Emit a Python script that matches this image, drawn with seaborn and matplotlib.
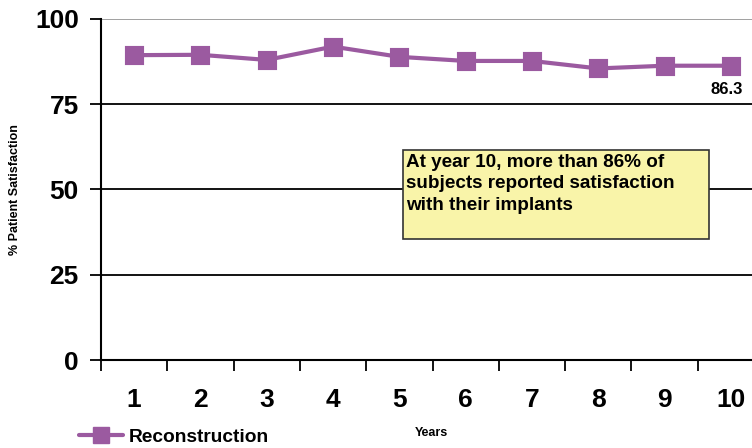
import matplotlib
matplotlib.use("Agg")
import matplotlib.pyplot as plt
import seaborn as sns
import pandas as pd
from matplotlib.lines import Line2D

years = ["1", "2", "3", "4", "5", "6", "7", "8", "9", "10"]
satisfaction = [89.4, 89.5, 88.0, 91.9, 88.9, 87.7, 87.7, 85.5, 86.3, 86.3]
yticks = [0, 25, 50, 75, 100]
series_name = "Reconstruction"
note = "At year 10, more than 86% of\nsubjects reported satisfaction\nwith their implants"

sns.set_style("white")
plt.rcParams['font.family'] = ['Liberation Sans', 'DejaVu Sans']
plt.rcParams['text.color'] = 'black'
plt.rcParams['xtick.color'] = 'black'
plt.rcParams['ytick.color'] = 'black'
plt.rcParams['axes.labelcolor'] = 'black'

purple = "#9B5AA0"
df = pd.DataFrame({"Year": years, "Satisfaction": satisfaction})

fig = plt.figure(figsize=(7.52, 4.48), dpi=100)
W, H = 752, 448
left, right, top, bottom = 101, 764, 19, 360
ax = fig.add_axes([left / W, 1 - bottom / H, (right - left) / W, (bottom - top) / H])

sns.pointplot(data=df, x="Year", y="Satisfaction", ax=ax, color=purple,
              markers="s", linestyles="-", errorbar=None,
              markersize=12, linewidth=3)

ax.set_xlim(-0.5, 9.5)
ax.set_ylim(0, 100)
ax.set_yticks(yticks)
ax.set_yticklabels([str(v) for v in yticks], fontsize=19, fontweight="bold")
ax.set_xticks(range(len(years)))
ax.set_xticklabels(years, fontsize=19, fontweight="bold")

# gridlines
for v in [25, 50, 75]:
    ax.axhline(v, color="black", lw=1.3, zorder=0)
ax.axhline(100, color="#999999", lw=1.3, zorder=0)

for s in ["top", "right"]:
    ax.spines[s].set_visible(False)
for s in ["left", "bottom"]:
    ax.spines[s].set_color("black")
    ax.spines[s].set_linewidth(1.5)

ax.tick_params(axis="y", which="major", direction="out", length=8, width=1.3,
               color="black", labelcolor="black", pad=8, left=True)
ax.tick_params(axis="x", which="major", length=0, pad=20, labelcolor="black")
ax.set_xticks([i - 0.5 for i in range(len(years) + 1)], minor=True)
ax.tick_params(axis="x", which="minor", direction="out", length=8, width=1.3,
               color="black", bottom=True)

ax.set_xlabel("")
ax.set_ylabel("")

fig.text(15 / W, 1 - 190 / H, "% Patient Satisfaction", rotation=90,
         fontsize=9, fontweight="bold", ha="center", va="center", color="black")
fig.text(431 / W, 1 - 433 / H, "Years", fontsize=9, fontweight="bold",
         ha="center", va="center", color="black")

# data label
ax.annotate(f"{satisfaction[-1]}", xy=(9, satisfaction[-1]), xytext=(-3, -17),
            textcoords="offset points", ha="center", va="center",
            fontsize=12, fontweight="bold", color="black")

# note box
fig.patches.append(plt.Rectangle((403 / W, 1 - 239 / H), 306 / W, 89 / H,
                                 transform=fig.transFigure, facecolor="#F9F4A9",
                                 edgecolor="#333333", lw=1.2, zorder=5))
fig.text(406 / W, 1 - 154 / H, note, fontsize=13.6, fontweight="bold",
         ha="left", va="top", linespacing=1.33, zorder=6, color="black")

# legend
handle = Line2D([], [], color=purple, marker="s", markersize=12, lw=3)
leg = fig.legend([handle], [series_name], loc="center left",
                 bbox_to_anchor=(71 / W, 1 - 437 / H), frameon=False,
                 prop={"size": 13.8, "weight": "bold"}, handlelength=2.3,
                 handletextpad=0.3, borderaxespad=0)
for t in leg.get_texts():
    t.set_color("black")

fig.savefig("out.png", dpi=100)
